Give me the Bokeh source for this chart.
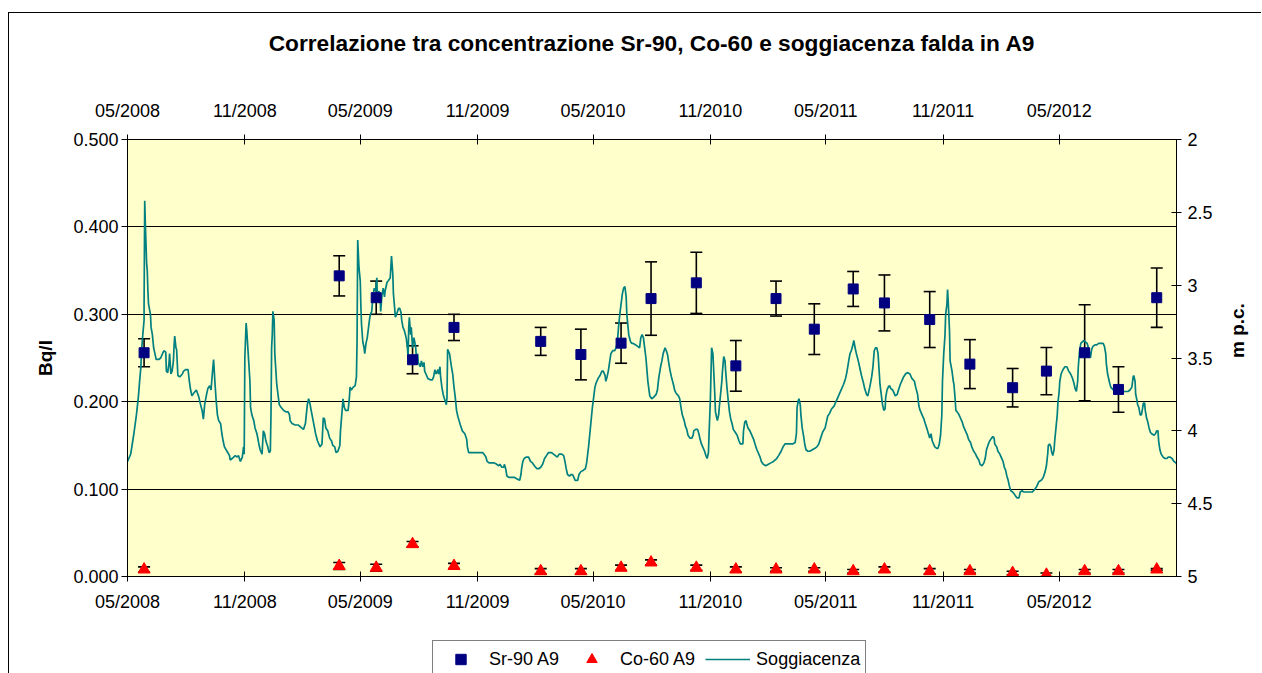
import math
import pandas as pd
from bokeh.plotting import figure
from bokeh.layouts import column
from bokeh.models import (Range1d, LinearAxis, DatetimeAxis, FixedTicker, DatetimeTickFormatter,
                          NumeralTickFormatter, ColumnDataSource, Whisker, TeeHead, Legend, LegendItem)
from bokeh.embed import file_html
from bokeh.resources import INLINE

TITLE = "Correlazione tra concentrazione Sr-90, Co-60 e soggiacenza falda in A9"
LEFT_LABEL = "Bq/l"
RIGHT_LABEL = "m p.c."
SERIES = ["Sr-90 A9", "Co-60 A9", "Soggiacenza"]

x_start = "2008-05-01"
x_end = "2012-11-01"
tick_dates = ["2008-05-01", "2008-11-01", "2009-05-01", "2009-11-01", "2010-05-01",
              "2010-11-01", "2011-05-01", "2011-11-01", "2012-05-01"]
left_ticks = [0.0, 0.1, 0.2, 0.3, 0.4, 0.5]
right_ticks = [2.0, 2.5, 3.0, 3.5, 4.0, 4.5, 5.0]

# sampling dates
sample_dates = ["2008-05-27", "2009-03-29", "2009-05-26", "2009-07-22", "2009-09-25",
                "2010-02-08", "2010-04-12", "2010-06-14", "2010-07-31", "2010-10-10",
                "2010-12-11", "2011-02-12", "2011-04-13", "2011-06-13", "2011-08-01",
                "2011-10-11", "2011-12-13", "2012-02-18", "2012-04-11", "2012-06-10",
                "2012-08-02", "2012-10-01"]
sr90 = [0.256, 0.344, 0.319, 0.248, 0.285, 0.269, 0.254, 0.267, 0.318, 0.336, 0.241,
        0.318, 0.283, 0.329, 0.313, 0.294, 0.243, 0.216, 0.235, 0.256, 0.214, 0.319]
sr90_err = [0.016, 0.023, 0.019, 0.016, 0.015, 0.016, 0.029, 0.023, 0.042, 0.035, 0.029,
            0.020, 0.029, 0.020, 0.032, 0.032, 0.028, 0.022, 0.027, 0.055, 0.026, 0.034]
co60 = [0.008, 0.012, 0.010, 0.037, 0.012, 0.006, 0.006, 0.010, 0.016, 0.010, 0.008,
        0.008, 0.008, 0.006, 0.008, 0.006, 0.006, 0.004, 0.002, 0.006, 0.006, 0.008]
co60_err = [0.003, 0.004, 0.004, 0.003, 0.003, 0.003, 0.003, 0.003, 0.003, 0.003, 0.003,
            0.002, 0.002, 0.002, 0.003, 0.003, 0.002, 0.002, 0.002, 0.002, 0.002, 0.001]

# Soggiacenza: days since 01/05/2008 and depth (m p.c.)
sogg_day = [
    0, 5, 10, 14, 17, 19, 21, 22, 24, 26, 26, 27, 28, 30, 31, 32, 33, 36, 37, 39, 41, 43, 45, 49,
    52, 55, 57, 60, 61, 63, 65, 66, 68, 70, 72, 73, 74, 76, 77, 79, 82, 86, 88, 91, 95, 97, 99,
    101, 104, 108, 112, 114, 117, 119, 121, 124, 126, 129, 131, 133, 135, 137, 139, 141, 143,
    146, 148, 150, 152, 156, 160, 161, 164, 169, 172, 174, 177, 180, 182, 183, 184, 186, 187,
    190, 192, 193, 195, 198, 200, 203, 206, 208, 211, 213, 215, 217, 220, 222, 224, 225, 226,
    227, 228, 230, 231, 233, 234, 236, 238, 241, 245, 249, 252, 254, 255, 258, 263, 268, 273,
    276, 279, 282, 284, 286, 288, 292, 295, 298, 300, 302, 305, 307, 309, 311, 314, 317, 320,
    322, 325, 327, 330, 333, 334, 336, 338, 340, 342, 344, 346, 348, 349, 351, 354, 357, 359,
    360, 361, 363, 365, 366, 367, 369, 371, 372, 374, 376, 378, 380, 381, 383, 385, 387, 389,
    391, 392, 394, 396, 397, 399, 401, 403, 404, 407, 409, 412, 414,
    416, 417, 419, 420, 422, 425, 427, 429, 430, 432, 434, 437, 439, 440, 441, 442, 444, 445,
    447, 449, 450, 452, 453, 455, 456, 459, 461, 463, 465, 466, 468, 471, 475, 478, 480, 482,
    484, 485, 487, 488, 490, 491, 493, 495, 497, 500, 501, 502, 503, 505, 507, 508, 510, 512,
    514, 516, 518, 520, 522, 525, 529, 532, 533, 535, 538, 541, 545, 550, 557, 559, 562, 564,
    567, 570, 572, 575, 579, 582, 584, 587, 590, 591, 593, 595, 598, 603, 607, 611, 615, 617,
    618, 620, 622, 625, 629, 632, 635, 638, 642, 645, 648, 651, 654, 657, 660, 662, 665, 668,
    671, 674, 677, 681, 684, 686, 688, 690, 693, 696, 698, 700, 702, 706, 708, 711, 715, 718,
    720, 723, 725, 727, 729, 731, 733, 735, 738, 741, 744, 746, 747, 749, 750, 752, 754, 756,
    758, 761, 764, 766, 768, 770, 772, 774, 776, 778, 780, 782, 783, 785, 786, 789, 791, 793,
    797, 800, 803, 805, 807, 809, 811,
    813, 816, 819, 822, 825, 829, 831, 833, 836, 838, 840, 843, 845, 847, 849, 851, 853, 856,
    858, 860, 864, 866, 868, 870, 873, 875, 877, 879, 882, 885, 887, 888, 891, 894, 896, 898,
    900, 902, 905, 907, 909, 911, 912, 914, 915, 916, 918, 919, 921, 922, 924, 925, 927, 928,
    930, 932, 933, 935, 937, 938, 940, 942, 944, 946, 948, 950, 953, 956, 959, 961, 965, 966,
    968, 970, 971, 973, 976, 979, 982, 984, 987, 989, 992, 994, 997, 1001, 1005, 1009, 1013,
    1018, 1021, 1025, 1028, 1031, 1035, 1039, 1043, 1047, 1049, 1050, 1052, 1053, 1055, 1056,
    1058, 1060, 1062, 1064, 1067, 1070, 1074, 1078, 1081, 1084, 1087, 1090, 1094, 1096, 1098,
    1101, 1104, 1108, 1111, 1113, 1116, 1120, 1123, 1126, 1128, 1131, 1133, 1135, 1137, 1139,
    1141, 1143, 1146, 1148, 1151, 1154, 1156, 1159, 1161, 1164, 1167, 1169, 1171, 1173, 1175,
    1177, 1179, 1180, 1182, 1184, 1186, 1188, 1189, 1191, 1193, 1195, 1197, 1200, 1202, 1204,
    1207, 1209, 1212, 1215, 1217, 1220,
    1223, 1227, 1230, 1234, 1236, 1239, 1241, 1243, 1246, 1249, 1251, 1254, 1256, 1258, 1260,
    1262, 1264, 1266, 1269, 1271, 1273, 1275, 1277, 1278, 1280, 1282, 1283, 1285, 1286, 1287,
    1289, 1290, 1293, 1295, 1296, 1298, 1299, 1301, 1304, 1306, 1309, 1311, 1314, 1317, 1319,
    1322, 1324, 1327, 1330, 1332, 1335, 1337, 1340, 1343, 1345, 1347, 1350, 1352, 1355, 1357,
    1359, 1360, 1363, 1365, 1368, 1370, 1373, 1375, 1377, 1379, 1381, 1383, 1385, 1388, 1390,
    1393, 1395, 1398, 1400, 1403, 1405, 1408, 1412, 1416, 1419, 1423, 1426, 1429, 1433, 1436,
    1439, 1441, 1443, 1444, 1446, 1448, 1449, 1451, 1453, 1454, 1456, 1458, 1459, 1461, 1462,
    1464, 1467, 1470, 1473, 1476, 1479, 1482, 1484, 1486, 1488, 1490, 1491, 1493, 1495, 1497,
    1500, 1502, 1505, 1508, 1510, 1512, 1514, 1517, 1520, 1523, 1527, 1530, 1532, 1534, 1535,
    1537, 1540, 1542, 1544, 1546, 1550, 1552, 1555, 1557, 1561, 1565, 1569, 1572, 1575, 1577,
    1578, 1580, 1581, 1583, 1584, 1586, 1588, 1590, 1592, 1593, 1595, 1596, 1598, 1600, 1602,
    1604, 1606, 1610, 1612, 1614, 1616, 1617, 1619, 1621, 1624, 1627, 1630, 1632, 1635, 1638,
    1641, 1644, 1647]
sogg_depth = [
    4.21, 4.16, 4.02, 3.89, 3.77, 3.66, 3.56, 3.45, 3.34, 3.24, 3.15, 2.42, 2.58, 2.85, 2.90,
    3.04, 3.13, 3.20, 3.29, 3.34, 3.43, 3.47, 3.51, 3.51, 3.50, 3.47, 3.45, 3.46, 3.59, 3.60,
    3.54, 3.47, 3.61, 3.59, 3.52, 3.42, 3.35, 3.43, 3.44, 3.62, 3.63, 3.61, 3.59, 3.58, 3.58,
    3.66, 3.72, 3.76, 3.74, 3.72, 3.77, 3.81, 3.86, 3.92, 3.82, 3.75, 3.71, 3.69, 3.72, 3.61,
    3.51, 3.66, 3.79, 3.89, 3.93, 3.95, 4.02, 4.07, 4.11, 4.14, 4.17, 4.20, 4.19, 4.17, 4.18,
    4.17, 4.21, 4.18, 4.11, 4.16, 3.50, 3.26, 3.31, 3.52, 3.66, 3.84, 3.89, 3.93, 3.98, 4.02,
    4.09, 4.13, 4.16, 4.00, 4.02, 4.07, 4.11, 4.15, 4.14, 3.89, 3.43, 3.34, 3.18, 3.24, 3.47,
    3.61, 3.68, 3.75, 3.82, 3.84, 3.86, 3.87, 3.87, 3.89, 3.93, 3.95, 3.96, 3.96, 3.98, 3.99,
    3.95, 3.82, 3.78, 3.81, 3.86, 3.95, 4.02, 4.07, 4.09, 4.11, 4.09, 3.91, 3.92, 3.98, 4.00,
    4.05, 4.07, 4.10, 4.11, 4.15, 4.14, 4.10, 4.00, 3.89, 3.78, 3.84, 3.86, 3.86, 3.86, 3.77,
    3.70, 3.72, 3.70, 3.69, 3.63, 3.38, 2.69, 2.88, 2.97, 3.15, 3.27, 3.39, 3.43, 3.47, 3.40,
    3.36, 3.29, 3.22, 3.20, 3.18, 3.07, 3.02, 3.04, 2.95, 3.11, 3.04, 3.06, 3.18, 3.07, 3.02,
    3.08, 3.04, 2.98, 2.97, 2.95, 2.80,
    2.92, 3.06, 3.16, 3.22, 3.20, 3.16, 3.16, 3.19, 3.24, 3.29, 3.31, 3.36, 3.43, 3.50, 3.29,
    3.22, 3.34, 3.29, 3.43, 3.36, 3.38, 3.43, 3.50, 3.47, 3.53, 3.56, 3.52, 3.56, 3.53, 3.59,
    3.61, 3.64, 3.65, 3.65, 3.63, 3.58, 3.61, 3.60, 3.58, 3.61, 3.56, 3.63, 3.70, 3.75, 3.78,
    3.82, 3.77, 3.44, 3.45, 3.47, 3.53, 3.56, 3.61, 3.70, 3.77, 3.86, 3.90, 3.93, 3.96, 4.00,
    4.02, 4.06, 4.11, 4.15, 4.15, 4.15, 4.15, 4.15, 4.15, 4.16, 4.18, 4.21, 4.22, 4.22, 4.22,
    4.22, 4.23, 4.24, 4.23, 4.25, 4.25, 4.23, 4.26, 4.31, 4.32, 4.32, 4.32, 4.33, 4.34, 4.30,
    4.26, 4.21, 4.19, 4.18, 4.18, 4.21, 4.22, 4.24, 4.26, 4.26, 4.25, 4.23, 4.19, 4.17, 4.15,
    4.15, 4.15, 4.16, 4.17, 4.18, 4.16, 4.16, 4.17, 4.21, 4.26, 4.30, 4.31, 4.30, 4.30, 4.32,
    4.34, 4.34, 4.30, 4.28, 4.27, 4.26, 4.22, 4.11, 4.02, 3.93, 3.84, 3.77, 3.70, 3.67, 3.64,
    3.62, 3.59, 3.59, 3.60, 3.62, 3.66, 3.63, 3.59, 3.53, 3.47, 3.45, 3.45, 3.43, 3.40, 3.29,
    3.20, 3.13, 3.06, 3.02, 3.01, 3.08, 3.20, 3.29, 3.34, 3.39, 3.40, 3.40, 3.41, 3.42, 3.43,
    3.36, 3.34, 3.36, 3.43,
    3.50, 3.66, 3.76, 3.78, 3.77, 3.75, 3.72, 3.64, 3.56, 3.52, 3.47, 3.43, 3.45, 3.48, 3.54,
    3.59, 3.63, 3.68, 3.72, 3.74, 3.76, 3.78, 3.84, 3.89, 3.93, 3.97, 3.99, 4.03, 4.05, 4.05,
    4.03, 4.00, 3.99, 3.99, 4.02, 4.06, 4.09, 4.11, 4.14, 4.17, 4.19, 4.15, 4.02, 3.79, 3.61,
    3.43, 3.47, 3.56, 3.75, 3.87, 3.91, 3.93, 3.89, 3.84, 3.75, 3.66, 3.59, 3.49, 3.52, 3.59,
    3.70, 3.79, 3.87, 3.92, 3.95, 3.99, 4.01, 4.03, 4.07, 4.09, 4.09, 4.00, 3.94, 3.93, 3.95,
    3.98, 4.00, 4.03, 4.06, 4.09, 4.13, 4.15, 4.18, 4.21, 4.23, 4.24, 4.23, 4.22, 4.21, 4.19,
    4.17, 4.14, 4.11, 4.09, 4.09, 4.09, 4.09, 4.08, 4.02, 3.84, 3.79, 3.78, 3.82, 3.89, 3.98,
    4.03, 4.09, 4.13, 4.14, 4.14, 4.13, 4.12, 4.11, 4.09, 4.05, 4.01, 3.98, 3.94, 3.90, 3.88,
    3.85, 3.83, 3.80, 3.78, 3.75, 3.71, 3.68, 3.64, 3.60, 3.52, 3.47, 3.45, 3.42, 3.38, 3.43,
    3.47, 3.52, 3.56, 3.62, 3.67, 3.71, 3.75, 3.76, 3.70, 3.63, 3.56, 3.45, 3.43, 3.43, 3.47,
    3.61, 3.68, 3.75, 3.82, 3.86, 3.85, 3.77, 3.72, 3.70, 3.69, 3.71, 3.72, 3.74, 3.76, 3.75,
    3.72, 3.68, 3.65, 3.63, 3.61,
    3.60, 3.61, 3.64, 3.66, 3.70, 3.75, 3.83, 3.86, 3.89, 3.92, 3.95, 3.99, 4.02, 4.05, 4.02,
    4.07, 4.09, 4.11, 4.12, 4.12, 4.09, 4.03, 3.89, 3.66, 3.47, 3.34, 3.20, 3.13, 3.03, 3.11,
    3.31, 3.52, 3.59, 3.66, 3.68, 3.79, 3.86, 3.87, 3.89, 3.91, 3.94, 3.97, 4.00, 4.03, 4.06,
    4.08, 4.11, 4.14, 4.16, 4.18, 4.20, 4.23, 4.24, 4.22, 4.19, 4.13, 4.09, 4.07, 4.05, 4.04,
    4.05, 4.09, 4.11, 4.14, 4.16, 4.18, 4.21, 4.25, 4.27, 4.31, 4.34, 4.38, 4.41, 4.42, 4.43,
    4.45, 4.46, 4.46, 4.42, 4.41, 4.42, 4.42, 4.42, 4.42, 4.42, 4.40, 4.38, 4.35, 4.34, 4.32,
    4.28, 4.24, 4.16, 4.10, 4.09, 4.11, 4.14, 4.17, 4.13, 4.07, 3.98, 3.89, 3.81, 3.73, 3.66,
    3.61, 3.58, 3.56, 3.56, 3.59, 3.61, 3.64, 3.67, 3.71, 3.73, 3.66, 3.56, 3.45, 3.40, 3.39,
    3.38, 3.39, 3.40, 3.45, 3.50, 3.44, 3.42, 3.41, 3.41, 3.40, 3.40, 3.40, 3.42, 3.47, 3.54,
    3.61, 3.67, 3.70, 3.71, 3.72, 3.72, 3.73, 3.72, 3.71, 3.73, 3.73, 3.73, 3.72, 3.70, 3.63,
    3.62, 3.66, 3.75, 3.79, 3.82, 3.84, 3.89, 3.89, 3.84, 3.81, 3.81, 3.86, 3.91, 3.94, 3.98,
    4.01, 4.02, 4.03, 4.02, 4.00, 4.00, 4.07, 4.13, 4.16, 4.18, 4.19, 4.19, 4.18, 4.18, 4.19,
    4.21, 4.22, 4.24]

FONT = "Liberation Sans"
SR_COLOR = "#000080"
CO_COLOR = "#FF0000"
LINE_COLOR = "#008080"

samples = pd.to_datetime(sample_dates)
src_sr = ColumnDataSource(dict(x=samples, y=sr90,
                               lo=[v - e for v, e in zip(sr90, sr90_err)],
                               hi=[v + e for v, e in zip(sr90, sr90_err)]))
src_co = ColumnDataSource(dict(x=samples, y=co60,
                               lo=[v - e for v, e in zip(co60, co60_err)],
                               hi=[v + e for v, e in zip(co60, co60_err)]))
sogg_dates = pd.Timestamp(x_start) + pd.to_timedelta(sogg_day, unit="D")
src_sogg = ColumnDataSource(dict(x=sogg_dates, y=sogg_depth))

W = 1252
p = figure(width=W, height=623, output_backend="svg", toolbar_location=None,
           x_axis_type="datetime",
           x_range=Range1d(pd.Timestamp(x_start), pd.Timestamp(x_end)),
           y_range=Range1d(0, 0.5),
           min_border_left=118, min_border_right=84, min_border_top=126, min_border_bottom=60,
           background_fill_color="#FFFFCC", border_fill_color="white")
p.extra_y_ranges = {"depth": Range1d(5, 2)}
p.outline_line_color = "black"

date_ticks = [pd.Timestamp(d).timestamp() * 1000 for d in tick_dates]
fmt = "%m/%Y"


def date_formatter():
    return DatetimeTickFormatter(microseconds=fmt, milliseconds=fmt, seconds=fmt, minsec=fmt,
                                 minutes=fmt, hourmin=fmt, hours=fmt, days=fmt, months=fmt,
                                 years=fmt, strip_leading_zeros=False)


def style_axis(ax, tin, tout, standoff):
    ax.axis_line_color = "black"
    ax.axis_line_width = 1
    ax.major_tick_line_color = "black"
    ax.major_tick_in = tin
    ax.major_tick_out = tout
    ax.minor_tick_line_color = None
    ax.major_label_text_font = FONT
    ax.major_label_text_font_size = "18px"
    ax.major_label_text_color = "black"
    ax.major_label_standoff = standoff


# bottom x axis
xb = p.xaxis[0]
xb.ticker = FixedTicker(ticks=date_ticks)
xb.formatter = date_formatter()
style_axis(xb, 5, 5, 10)

# top x axis; its label carries the chart title
xt = DatetimeAxis(ticker=FixedTicker(ticks=date_ticks), formatter=date_formatter())
style_axis(xt, 5, 5, 14)
xt.axis_label = TITLE
xt.axis_label_text_font = FONT
xt.axis_label_text_font_size = "22.7px"
xt.axis_label_text_font_style = "bold"
xt.axis_label_text_color = "black"
xt.axis_label_standoff = 42
p.add_layout(xt, "above")

# left y axis
yl = p.yaxis[0]
yl.ticker = FixedTicker(ticks=left_ticks)
yl.formatter = NumeralTickFormatter(format="0.000")
style_axis(yl, 0, 6, 3)
yl.axis_label = LEFT_LABEL
yl.axis_label_text_font = FONT
yl.axis_label_text_font_size = "19px"
yl.axis_label_text_font_style = "bold"
yl.axis_label_text_color = "black"
yl.axis_label_standoff = 14

# right y axis
yr = LinearAxis(y_range_name="depth", ticker=FixedTicker(ticks=right_ticks),
                formatter=NumeralTickFormatter(format="0.[0]"))
style_axis(yr, 5, 5, 6)
yr.axis_label = RIGHT_LABEL
yr.axis_label_text_font = FONT
yr.axis_label_text_font_size = "19px"
yr.axis_label_text_font_style = "bold"
yr.axis_label_text_color = "black"
yr.axis_label_standoff = 22
yr.axis_label_orientation = math.pi / 2
p.add_layout(yr, "right")

p.xgrid.visible = False
p.ygrid.ticker = FixedTicker(ticks=left_ticks)
p.ygrid.grid_line_color = "black"
p.ygrid.grid_line_width = 1

# error bars
for src in (src_sr, src_co):
    w = Whisker(source=src, base="x", lower="lo", upper="hi", dimension="height",
                line_color="black", line_width=1.6, level="underlay",
                lower_head=TeeHead(size=12, line_color="black", line_width=1.6),
                upper_head=TeeHead(size=12, line_color="black", line_width=1.6))
    p.add_layout(w)

p.line("x", "y", source=src_sogg, y_range_name="depth", line_color=LINE_COLOR, line_width=1.7)
p.scatter("x", "y", source=src_sr, marker="square", size=10, fill_color=SR_COLOR,
          line_color=SR_COLOR)
p.scatter("x", "y", source=src_co, marker="triangle", size=12, fill_color=CO_COLOR,
          line_color=CO_COLOR)

# legend strip below the chart: same series, drawn on a range that keeps them out of view
pl = figure(width=W, height=37, output_backend="svg", toolbar_location=None,
            x_range=p.x_range, y_range=Range1d(-2, -1),
            x_axis_location=None, y_axis_location=None, min_border=0,
            background_fill_color="white", border_fill_color="white")
pl.outline_line_color = None
pl.xgrid.visible = False
pl.ygrid.visible = False
k_sr = pl.scatter("x", "y", source=src_sr, marker="square", size=10,
                  fill_color=SR_COLOR, line_color=SR_COLOR)
k_co = pl.scatter("x", "y", source=src_co, marker="triangle", size=12,
                  fill_color=CO_COLOR, line_color=CO_COLOR)
k_ln = pl.line("x", "y", source=src_sogg, line_color=LINE_COLOR, line_width=1.7)
legend = Legend(items=[LegendItem(label=SERIES[0], renderers=[k_sr]),
                       LegendItem(label=SERIES[1], renderers=[k_co]),
                       LegendItem(label=SERIES[2], renderers=[k_ln])],
                orientation="horizontal", location=(305, -5),
                border_line_color="black", border_line_width=1,
                background_fill_color="white", background_fill_alpha=1.0,
                label_text_font=FONT, label_text_font_size="18px", label_text_color="black",
                glyph_width=45, glyph_height=26, label_standoff=6, spacing=10,
                padding=5, margin=0)
pl.add_layout(legend)

layout = column(p, pl, spacing=0)
layout.styles = {"margin-top": "12px", "margin-left": "8px",
                 "border-left": "1px solid black", "border-top": "1px solid black"}

open("out.html", "w").write(file_html(layout, INLINE))
